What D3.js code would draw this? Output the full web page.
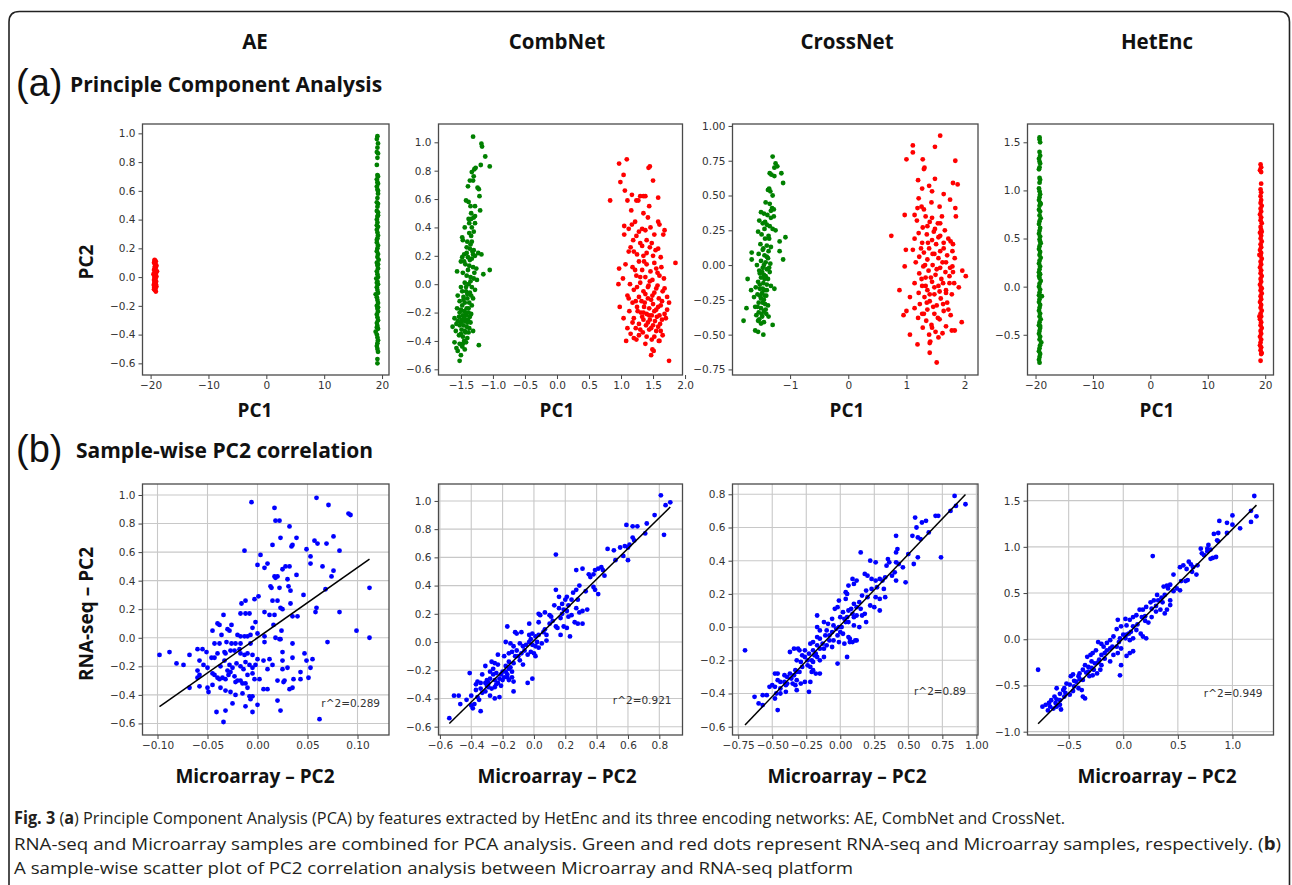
<!DOCTYPE html>
<html>
<head>
<meta charset="utf-8">
<script src="https://cdn.jsdelivr.net/npm/d3@7"></script>
<style>
  body { margin: 0; background: #fff; }
  .tick text { font-family: "DejaVu Sans", sans-serif; font-size: 10.5px; fill: #333; }
  .tick line { stroke: #444; }
  .title { font-family: "Open Sans", sans-serif; font-weight: 700; fill: #111; }
</style>
</head>
<body>
<svg id="fig" width="1292" height="885"></svg>
<script>
// ---------- data ----------
var models = ["AE", "CombNet", "CrossNet", "HetEnc"];

// (a) PCA, green = RNA-seq, red = Microarray
var aeRnaseq = [[19.2,0.98],[19.1,0.96],[19.3,0.93],[19.2,0.90],[19.1,0.87],[19.3,0.86],[19.2,0.83],[19.1,0.78],[19.2,0.71],[19.3,0.70],[19.1,0.68],[19.2,0.66],[19.3,0.65],[19.1,0.63],[19.2,0.61],[19.3,0.58],[19.2,0.55],[19.1,0.52],[19.3,0.51],[19.2,0.49],[19.1,0.46],[19.3,0.43],[19.2,0.42],[19.1,0.40],[19.2,0.38],[19.3,0.35],[19.1,0.33],[19.2,0.31],[19.3,0.29],[19.2,0.27],[19.1,0.24],[19.3,0.22],[19.2,0.20],[19.1,0.18],[19.3,0.16],[19.2,0.14],[19.4,0.12],[19.1,0.10],[19.2,0.08],[19.3,0.06],[19.1,0.04],[19.2,0.02],[19.3,0.00],[19.0,-0.01],[19.2,-0.03],[19.3,-0.05],[19.1,-0.07],[19.2,-0.09],[18.9,-0.12],[19.3,-0.11],[19.1,-0.14],[19.2,-0.16],[19.3,-0.18],[19.1,-0.20],[19.2,-0.22],[19.3,-0.24],[19.1,-0.26],[19.2,-0.28],[19.3,-0.30],[19.1,-0.32],[19.2,-0.34],[19.3,-0.36],[18.9,-0.38],[19.1,-0.40],[19.2,-0.42],[19.3,-0.44],[19.2,-0.46],[19.1,-0.48],[19.2,-0.50],[19.3,-0.52],[19.2,-0.57],[19.2,-0.60],[19.3,0.45],[19.1,0.26],[19.3,0.09],[19.1,-0.04],[19.3,-0.21],[19.1,-0.35],[19.3,0.60],[19.1,0.36]];
var aeMicro = [[-19.3,0.12],[-19.1,0.11],[-19.4,0.10],[-19.2,0.09],[-19.0,0.08],[-19.3,0.07],[-19.1,0.065],[-19.4,0.05],[-19.2,0.045],[-18.9,0.04],[-19.3,0.03],[-19.1,0.025],[-19.5,0.02],[-19.2,0.01],[-19.0,0.005],[-19.35,0.0],[-19.15,-0.01],[-19.4,-0.02],[-19.25,-0.025],[-19.05,-0.03],[-19.3,-0.04],[-19.1,-0.05],[-19.45,-0.055],[-19.2,-0.06],[-19.0,-0.065],[-19.35,-0.07],[-19.15,-0.08],[-19.4,-0.085],[-19.25,-0.09],[-19.1,-0.10],[-19.3,0.115],[-19.2,0.095],[-19.1,0.075],[-19.25,0.055],[-19.15,0.035],[-19.3,0.015],[-19.2,-0.005],[-19.3,-0.035],[-19.2,-0.045],[-19.3,-0.075]];

var combRnaseq = [[-1.31,1.04],[-1.18,0.99],[-1.17,0.97],[-1.12,0.90],[-1.05,0.83],[-1.19,0.84],[-1.29,0.81],[-1.27,0.82],[-1.33,0.79],[-1.30,0.76],[-1.36,0.73],[-1.31,0.73],[-1.24,0.68],[-1.22,0.67],[-1.39,0.69],[-1.21,0.62],[-1.42,0.59],[-1.38,0.58],[-1.35,0.55],[-1.28,0.55],[-1.20,0.52],[-1.34,0.50],[-1.28,0.48],[-1.38,0.46],[-1.34,0.46],[-1.30,0.47],[-1.37,0.43],[-1.33,0.40],[-1.44,0.40],[-1.37,0.36],[-1.30,0.37],[-1.34,0.34],[-1.48,0.33],[-1.47,0.31],[-1.40,0.30],[-1.35,0.28],[-1.41,0.26],[-1.36,0.25],[-1.30,0.24],[-1.23,0.22],[-1.18,0.21],[-1.45,0.21],[-1.48,0.19],[-1.39,0.19],[-1.33,0.18],[-1.31,0.21],[-1.28,0.20],[-1.50,0.16],[-1.43,0.14],[-1.37,0.13],[-1.31,0.12],[-1.26,0.11],[-1.05,0.10],[-1.15,0.07],[-1.56,0.09],[-1.47,0.08],[-1.41,0.06],[-1.35,0.05],[-1.30,0.04],[-1.25,0.03],[-1.44,0.01],[-1.38,0.00],[-1.50,-0.02],[-1.33,-0.02],[-1.28,-0.04],[-1.42,-0.05],[-1.36,-0.06],[-1.55,-0.08],[-1.46,-0.09],[-1.40,-0.10],[-1.31,-0.10],[-1.52,-0.12],[-1.44,-0.13],[-1.37,-0.13],[-1.33,-0.15],[-1.48,-0.15],[-1.41,-0.17],[-1.56,-0.17],[-1.50,-0.18],[-1.45,-0.19],[-1.38,-0.20],[-1.34,-0.21],[-1.47,-0.22],[-1.42,-0.22],[-1.53,-0.23],[-1.60,-0.24],[-1.49,-0.25],[-1.44,-0.26],[-1.39,-0.25],[-1.35,-0.27],[-1.57,-0.28],[-1.52,-0.29],[-1.46,-0.29],[-1.41,-0.30],[-1.63,-0.30],[-1.37,-0.31],[-1.49,-0.32],[-1.44,-0.33],[-1.58,-0.33],[-1.31,-0.33],[-1.53,-0.36],[-1.47,-0.37],[-1.40,-0.38],[-1.45,-0.40],[-1.60,-0.41],[-1.52,-0.42],[-1.22,-0.43],[-1.57,-0.45],[-1.48,-0.44],[-1.55,-0.47],[-1.44,-0.46],[-1.50,-0.50],[-1.52,-0.54],
  [-1.45,-0.24],[-1.40,-0.27],[-1.50,-0.27],[-1.43,-0.20],[-1.38,-0.17],[-1.46,-0.11],[-1.40,-0.07],[-1.34,-0.08],[-1.48,-0.05],[-1.43,-0.34],[-1.38,-0.34],[-1.50,-0.35],[-1.42,-0.02],[-1.35,0.02],[-1.29,0.08],[-1.39,0.10],[-1.45,0.16],[-1.36,0.17],[-1.32,0.23],[-1.42,-0.41],[-1.47,-0.42],[-1.55,-0.26],[-1.52,-0.20],[-1.36,-0.23],[-1.41,0.22],[-1.33,0.30],[-1.28,0.43]];
var combMicro = [[1.09,0.88],[0.97,0.85],[1.45,0.83],[1.43,0.82],[1.04,0.77],[0.99,0.72],[1.50,0.73],[1.06,0.66],[0.83,0.59],[1.10,0.59],[1.17,0.63],[1.30,0.62],[1.35,0.62],[1.38,0.62],[1.24,0.59],[1.44,0.55],[1.58,0.61],[1.27,0.59],[1.16,0.52],[1.35,0.50],[1.42,0.47],[1.22,0.44],[1.58,0.44],[1.60,0.42],[1.05,0.41],[1.17,0.42],[1.12,0.39],[1.33,0.39],[1.38,0.38],[1.28,0.37],[1.05,0.35],[1.24,0.34],[1.68,0.38],[1.66,0.35],[1.19,0.31],[1.40,0.31],[1.48,0.29],[1.15,0.26],[1.33,0.27],[1.45,0.26],[1.54,0.24],[1.58,0.25],[1.12,0.23],[1.20,0.23],[1.25,0.21],[1.35,0.20],[1.50,0.20],[1.62,0.19],[0.97,0.11],[1.07,0.14],[1.28,0.16],[1.40,0.14],[1.85,0.15],[1.18,0.12],[1.33,0.10],[1.46,0.09],[1.55,0.11],[1.63,0.12],[1.03,0.04],[1.24,0.06],[1.38,0.05],[1.49,0.03],[1.67,0.04],[0.96,0.00],[1.14,0.00],[1.30,0.01],[1.43,-0.01],[1.57,-0.01],[1.20,-0.04],[1.35,-0.05],[1.52,-0.06],[1.65,-0.05],[1.10,-0.08],[1.28,-0.09],[1.42,-0.10],[1.59,-0.10],[1.72,-0.09],[1.18,-0.13],[1.37,-0.13],[1.50,-0.14],[1.62,-0.15],[0.98,-0.16],[1.25,-0.16],[1.44,-0.17],[1.55,-0.18],[1.75,-0.13],[1.13,-0.19],[1.31,-0.20],[1.40,-0.21],[1.48,-0.22],[1.60,-0.22],[1.68,-0.21],[1.20,-0.24],[1.04,-0.24],[1.35,-0.25],[1.45,-0.25],[1.53,-0.26],[1.64,-0.25],[1.28,-0.28],[1.39,-0.29],[1.50,-0.29],[1.58,-0.30],[1.10,-0.31],[1.23,-0.31],[1.44,-0.32],[1.62,-0.33],[1.34,-0.34],[1.15,-0.35],[1.28,-0.36],[1.40,-0.37],[1.52,-0.37],[1.24,-0.39],[1.08,-0.40],[1.48,-0.39],[1.59,-0.40],[1.20,-0.38],[1.49,-0.46],[1.51,-0.47],[1.47,-0.50],[1.75,-0.54],[1.60,-0.40],
  [1.22,0.10],[1.36,0.16],[1.52,0.15],[1.30,0.05],[1.45,0.02],[1.60,0.06],[1.25,-0.02],[1.38,-0.07],[1.55,-0.03],[1.68,-0.03],[1.32,-0.12],[1.47,-0.11],[1.64,-0.12],[1.26,-0.19],[1.36,-0.16],[1.52,-0.19],[1.58,-0.16],[1.72,-0.18],[1.33,-0.23],[1.42,-0.27],[1.56,-0.23],[1.70,-0.24],[1.18,-0.27],[1.47,-0.31],[1.55,-0.33],[1.30,-0.32],[1.38,-0.42],[1.65,-0.36],[1.12,-0.10],[1.40,0.22],[1.30,0.29],[1.52,0.35],[1.42,-0.02],[1.49,-0.08],[1.35,-0.20],[1.44,-0.22],[1.61,-0.28],[1.23,-0.12],[1.57,0.08],[1.46,0.40]];

var crossRnaseq = [[-1.30,0.78],[-1.25,0.73],[-1.22,0.71],[-1.27,0.70],[-1.35,0.66],[-1.32,0.65],[-1.15,0.66],[-1.27,0.64],[-1.12,0.59],[-1.36,0.55],[-1.34,0.53],[-1.38,0.54],[-1.30,0.50],[-1.42,0.45],[-1.35,0.44],[-1.31,0.41],[-1.28,0.40],[-1.33,0.39],[-1.50,0.38],[-1.45,0.37],[-1.39,0.36],[-1.28,0.35],[-1.53,0.32],[-1.47,0.30],[-1.40,0.29],[-1.35,0.28],[-1.44,0.26],[-1.30,0.26],[-1.25,0.25],[-1.55,0.24],[-1.49,0.22],[-1.37,0.21],[-1.08,0.20],[-1.43,0.19],[-1.18,0.17],[-1.51,0.15],[-1.40,0.14],[-1.33,0.13],[-1.47,0.11],[-1.37,0.10],[-1.18,0.10],[-1.66,0.09],[-1.54,0.08],[-1.44,0.07],[-1.38,0.05],[-1.12,0.04],[-1.66,0.04],[-1.50,0.03],[-1.42,0.02],[-1.34,0.01],[-1.57,0.00],[-1.47,-0.02],[-1.40,-0.03],[-1.53,-0.04],[-1.35,-0.05],[-1.45,-0.07],[-1.42,-0.08],[-1.50,-0.09],[-1.38,-0.10],[-1.73,-0.10],[-1.55,-0.12],[-1.46,-0.13],[-1.40,-0.14],[-1.33,-0.15],[-1.59,-0.16],[-1.52,-0.17],[-1.43,-0.18],[-1.67,-0.18],[-1.27,-0.17],[-1.48,-0.20],[-1.56,-0.21],[-1.41,-0.22],[-1.62,-0.23],[-1.50,-0.24],[-1.45,-0.25],[-1.54,-0.27],[-1.43,-0.28],[-1.38,-0.29],[-1.60,-0.30],[-1.50,-0.31],[-1.75,-0.31],[-1.45,-0.33],[-1.54,-0.34],[-1.41,-0.35],[-1.58,-0.36],[-1.48,-0.37],[-1.37,-0.37],[-1.53,-0.39],[-1.80,-0.40],[-1.45,-0.41],[-1.50,-0.42],[-1.30,-0.43],[-1.60,-0.47],[-1.55,-0.48],[-1.46,-0.50],
  [-1.48,-0.05],[-1.44,-0.10],[-1.52,-0.14],[-1.47,-0.17],[-1.44,-0.22],[-1.52,-0.22],[-1.40,-0.18],[-1.47,-0.27],[-1.56,-0.30],[-1.49,-0.35],[-1.42,-0.32],[-1.45,0.00],[-1.40,0.06],[-1.46,0.12],[-1.36,0.19],[-1.43,0.31],[-1.33,0.34],[-1.36,-0.02],[-1.52,-0.06],[-1.55,-0.40]];
var crossMicro = [[1.58,0.93],[1.49,0.85],[1.11,0.86],[1.11,0.81],[1.00,0.76],[1.28,0.76],[1.84,0.75],[1.31,0.70],[1.30,0.69],[1.20,0.61],[1.49,0.62],[1.80,0.59],[1.88,0.58],[1.39,0.57],[1.27,0.55],[1.44,0.53],[1.64,0.51],[1.21,0.48],[1.75,0.47],[1.43,0.45],[1.57,0.42],[1.19,0.41],[1.26,0.42],[1.30,0.40],[1.84,0.41],[1.14,0.36],[0.97,0.36],[1.33,0.35],[1.44,0.34],[1.61,0.35],[1.18,0.32],[1.40,0.31],[1.54,0.30],[1.85,0.35],[1.28,0.27],[1.49,0.26],[1.66,0.25],[1.21,0.23],[1.35,0.22],[1.58,0.21],[0.74,0.21],[1.14,0.19],[1.44,0.18],[1.72,0.19],[1.76,0.17],[1.27,0.16],[1.51,0.15],[1.80,0.15],[0.99,0.11],[1.11,0.11],[1.39,0.12],[1.64,0.12],[1.79,0.10],[1.30,0.09],[1.48,0.08],[1.70,0.07],[1.22,0.06],[1.55,0.05],[1.83,0.05],[1.36,0.04],[1.62,0.02],[1.16,0.02],[1.45,0.00],[0.97,-0.01],[1.29,-0.01],[1.58,-0.02],[1.79,-0.01],[1.96,-0.04],[1.38,-0.04],[1.67,-0.05],[1.22,-0.06],[1.50,-0.07],[1.74,-0.08],[2.02,-0.08],[1.33,-0.09],[1.60,-0.10],[1.44,-0.12],[1.14,-0.13],[1.82,-0.13],[1.27,-0.15],[1.55,-0.15],[1.90,-0.16],[0.88,-0.18],[1.36,-0.18],[1.68,-0.18],[1.21,-0.20],[1.48,-0.21],[1.78,-0.21],[1.31,-0.23],[1.06,-0.23],[1.59,-0.24],[1.40,-0.26],[1.70,-0.27],[1.23,-0.28],[1.52,-0.29],[1.14,-0.31],[1.36,-0.32],[1.64,-0.33],[1.00,-0.33],[1.27,-0.35],[1.48,-0.35],[0.95,-0.36],[1.76,-0.36],[1.20,-0.38],[1.57,-0.39],[1.34,-0.40],[1.95,-0.41],[1.43,-0.43],[1.68,-0.44],[1.28,-0.45],[1.83,-0.47],[1.78,-0.47],[1.50,-0.48],[1.06,-0.50],[1.39,-0.50],[1.55,-0.52],[1.62,-0.49],[1.41,-0.55],[1.40,-0.56],[1.19,-0.57],[1.40,-0.63],[1.52,-0.70],
  [1.45,0.08],[1.58,0.10],[1.32,0.00],[1.52,-0.03],[1.68,0.02],[1.42,-0.09],[1.63,-0.13],[1.48,-0.16],[1.74,-0.13],[1.40,-0.21],[1.57,-0.19],[1.35,-0.27],[1.63,-0.28],[1.46,-0.30],[1.75,-0.02],[1.26,-0.10],[1.55,0.20],[1.37,0.16],[1.64,0.16],[1.47,0.24],[1.30,-0.35],[1.54,-0.38],[1.72,-0.32],[1.44,-0.45],[1.36,0.28],[1.68,-0.20],[1.25,0.12],[1.80,-0.05],[1.33,-0.15],[1.58,0.30]];

var hetRnaseq = [[-19.3,1.55],[-19.3,1.53],[-19.2,1.50],[-19.3,1.40],[-19.2,1.36],[-19.4,1.33],[-19.3,1.30],[-19.2,1.28],[-19.3,1.24],[-19.4,1.22],[-19.3,1.13],[-19.2,1.11],[-19.3,1.08],[-19.4,1.02],[-19.3,0.99],[-19.2,0.96],[-19.3,0.93],[-19.4,0.90],[-19.2,0.87],[-19.3,0.84],[-19.4,0.80],[-19.2,0.78],[-19.3,0.74],[-19.1,0.71],[-19.3,0.68],[-19.4,0.65],[-19.2,0.61],[-19.3,0.58],[-19.4,0.55],[-19.2,0.52],[-19.3,0.49],[-19.1,0.45],[-19.3,0.42],[-19.4,0.39],[-19.2,0.36],[-19.3,0.33],[-19.1,0.30],[-19.3,0.27],[-19.4,0.24],[-19.2,0.21],[-19.3,0.18],[-19.4,0.15],[-19.2,0.13],[-19.3,0.09],[-19.1,0.06],[-19.3,0.03],[-19.4,0.00],[-19.2,-0.03],[-19.3,-0.06],[-18.9,-0.10],[-19.3,-0.13],[-19.4,-0.16],[-19.2,-0.19],[-19.3,-0.22],[-19.4,-0.25],[-19.2,-0.28],[-19.3,-0.31],[-19.1,-0.34],[-19.3,-0.37],[-19.4,-0.40],[-19.2,-0.43],[-19.3,-0.46],[-19.4,-0.49],[-19.2,-0.52],[-19.3,-0.55],[-19.0,-0.58],[-19.2,-0.61],[-19.3,-0.64],[-19.4,-0.67],[-19.2,-0.70],[-19.3,-0.73],[-19.4,-0.76],[-19.3,-0.79],[-19.2,0.47],[-19.4,0.11],[-19.2,-0.41],[-19.1,0.86],[-19.4,-0.09]];
var hetMicro = [[19.2,1.27],[19.3,1.24],[19.1,1.21],[19.3,1.19],[19.3,1.07],[19.2,1.01],[19.3,0.98],[19.2,0.94],[19.3,0.90],[19.2,0.87],[19.4,0.84],[19.2,0.81],[19.3,0.78],[19.1,0.75],[19.3,0.72],[19.2,0.69],[19.4,0.66],[19.2,0.62],[19.3,0.59],[19.1,0.56],[19.3,0.53],[19.2,0.50],[19.4,0.47],[19.2,0.44],[19.3,0.41],[19.1,0.38],[19.3,0.35],[19.2,0.32],[19.4,0.29],[19.2,0.26],[19.3,0.23],[19.1,0.20],[19.3,0.17],[19.2,0.14],[19.4,0.11],[19.2,0.08],[19.3,0.05],[19.1,0.02],[19.3,-0.01],[19.2,-0.04],[19.4,-0.07],[19.2,-0.10],[19.3,-0.13],[19.1,-0.16],[19.3,-0.19],[19.2,-0.22],[19.4,-0.25],[19.2,-0.28],[19.3,-0.31],[19.1,-0.34],[19.3,-0.37],[19.2,-0.40],[19.4,-0.43],[19.2,-0.46],[19.3,-0.49],[19.1,-0.52],[19.3,-0.55],[19.2,-0.58],[19.1,-0.61],[19.3,-0.63],[19.2,-0.66],[19.4,-0.69],[19.3,-0.70],[19.2,-0.77],[19.0,0.33],[19.4,-0.02],[19.0,-0.31],[19.4,0.57]];

// (b) sample-wise PC2: [microarray PC2, RNA-seq PC2]
var corrAE = [[0.059,0.98],[-0.006,0.95],[0.017,0.91],[0.071,0.93],[0.091,0.87],[0.093,0.86],[0.018,0.82],[0.022,0.82],[0.032,0.78],[0.023,0.70],[0.039,0.70],[0.076,0.71],[0.015,0.65],[0.034,0.64],[0.035,0.65],[0.057,0.68],[0.060,0.66],[0.069,0.66],[-0.013,0.61],[0.049,0.62],[0.082,0.61],[0.003,0.58],[0.053,0.57],[0.053,0.52],[0.000,0.51],[0.010,0.52],[0.007,0.49],[0.025,0.48],[0.028,0.50],[0.032,0.50],[0.065,0.50],[0.076,0.47],[0.074,0.43],[0.017,0.43],[0.018,0.42],[0.020,0.43],[0.030,0.41],[0.039,0.44],[0.013,0.36],[0.014,0.35],[0.022,0.35],[0.031,0.36],[0.033,0.33],[0.046,0.30],[0.068,0.34],[0.112,0.35],[0.001,0.29],[-0.003,0.27],[-0.012,0.26],[0.015,0.26],[0.020,0.26],[0.033,0.24],[-0.016,0.24],[0.023,0.21],[0.025,0.20],[0.059,0.21],[0.058,0.18],[0.082,0.18],[-0.034,0.16],[-0.008,0.17],[-0.012,0.17],[-0.017,0.17],[0.007,0.18],[0.012,0.16],[0.017,0.16],[0.035,0.15],[0.040,0.15],[-0.002,0.11],[-0.040,0.10],[-0.038,0.09],[-0.026,0.09],[0.016,0.09],[-0.045,0.05],[-0.030,0.06],[-0.028,0.05],[-0.005,0.07],[0.024,0.05],[0.099,0.05],[-0.036,0.02],[-0.020,0.02],[-0.017,0.01],[-0.013,0.01],[-0.010,0.01],[-0.007,0.02],[0.000,0.03],[0.007,0.01],[0.018,0.00],[0.022,-0.01],[0.023,-0.01],[0.112,0.00],[-0.043,-0.04],[-0.038,-0.04],[-0.031,-0.03],[-0.026,-0.04],[-0.022,-0.04],[-0.017,-0.04],[-0.007,-0.04],[0.007,-0.03],[0.035,-0.04],[0.070,-0.03],[-0.098,-0.12],[-0.088,-0.10],[-0.081,-0.18],[-0.074,-0.19],[-0.068,-0.12],[-0.060,-0.08],[-0.055,-0.08],[-0.058,-0.16],[-0.051,-0.10],[-0.046,-0.14],[-0.043,-0.14],[-0.040,-0.11],[-0.033,-0.10],[-0.032,-0.11],[-0.027,-0.09],[-0.023,-0.09],[-0.018,-0.08],[-0.017,-0.11],[-0.013,-0.12],[-0.010,-0.11],[-0.005,-0.12],[0.000,-0.15],[0.006,-0.16],[0.012,-0.15],[0.025,-0.10],[0.025,-0.16],[0.035,-0.14],[0.047,-0.11],[0.049,-0.16],[0.055,-0.15],[-0.054,-0.19],[-0.050,-0.21],[-0.037,-0.20],[-0.033,-0.16],[-0.030,-0.23],[-0.028,-0.19],[-0.025,-0.21],[-0.021,-0.18],[-0.017,-0.20],[-0.014,-0.22],[-0.012,-0.17],[-0.008,-0.19],[-0.005,-0.21],[-0.002,-0.19],[0.010,-0.22],[0.015,-0.19],[0.025,-0.22],[0.030,-0.21],[0.020,-0.30],[0.026,-0.31],[0.027,-0.30],[0.036,-0.29],[0.053,-0.21],[-0.045,-0.25],[-0.043,-0.26],[-0.040,-0.28],[-0.038,-0.29],[-0.035,-0.28],[-0.032,-0.29],[-0.029,-0.26],[-0.027,-0.24],[-0.023,-0.27],[-0.022,-0.31],[-0.020,-0.30],[-0.017,-0.30],[-0.015,-0.32],[-0.012,-0.32],[-0.010,-0.26],[-0.005,-0.25],[-0.003,-0.29],[0.002,-0.29],[-0.060,-0.23],[-0.058,-0.26],[-0.060,-0.28],[-0.068,-0.35],[-0.058,-0.34],[-0.050,-0.35],[-0.049,-0.38],[-0.045,-0.33],[-0.037,-0.35],[-0.032,-0.37],[-0.027,-0.38],[-0.022,-0.40],[-0.015,-0.39],[-0.010,-0.35],[0.032,-0.36],[0.035,-0.35],[0.043,-0.24],[0.043,-0.29],[0.051,-0.28],[-0.025,-0.46],[-0.008,-0.41],[-0.007,-0.43],[-0.005,-0.41],[-0.012,-0.48],[-0.041,-0.52],[-0.032,-0.51],[-0.005,-0.52],[0.000,-0.47],[0.010,-0.36],[0.020,-0.44],[0.023,-0.51],[-0.034,-0.59],[0.062,-0.57],[0.006,-0.36]];
var corrComb = [[0.81,1.04],[0.84,0.97],[0.87,0.99],[0.77,0.90],[0.83,0.76],[0.72,0.84],[0.71,0.77],[0.59,0.83],[0.63,0.82],[0.66,0.82],[0.63,0.74],[0.64,0.72],[0.58,0.68],[0.60,0.67],[0.61,0.69],[0.55,0.67],[0.51,0.65],[0.47,0.66],[0.57,0.61],[0.60,0.58],[0.14,0.62],[0.43,0.53],[0.44,0.51],[0.41,0.52],[0.39,0.51],[0.31,0.52],[0.27,0.51],[0.35,0.48],[0.36,0.46],[0.38,0.48],[0.29,0.40],[0.27,0.37],[0.38,0.39],[0.39,0.37],[0.41,0.34],[0.14,0.37],[0.25,0.35],[0.24,0.30],[0.21,0.32],[0.20,0.30],[0.16,0.32],[0.18,0.27],[0.13,0.26],[0.16,0.24],[0.19,0.23],[0.21,0.22],[0.22,0.18],[0.24,0.19],[0.27,0.24],[0.29,0.21],[0.31,0.22],[0.34,0.23],[0.26,0.14],[0.28,0.13],[0.31,0.13],[0.07,0.21],[0.10,0.19],[0.11,0.18],[0.17,0.17],[0.19,0.11],[0.21,0.10],[0.10,0.13],[0.14,0.11],[0.15,0.10],[0.17,0.05],[0.23,0.04],[0.03,0.20],[0.04,0.19],[0.03,0.14],[-0.03,0.13],[0.07,0.09],[0.08,0.05],[-0.01,0.06],[0.01,0.04],[0.03,0.05],[-0.08,0.07],[-0.11,0.06],[-0.18,0.00],[-0.15,-0.01],[-0.13,-0.03],[-0.09,-0.01],[-0.07,-0.03],[-0.05,-0.02],[-0.03,0.05],[-0.03,0.00],[-0.01,-0.02],[0.01,-0.03],[0.03,-0.04],[0.05,-0.01],[0.08,0.01],[0.00,-0.08],[0.01,-0.10],[-0.04,-0.09],[-0.02,-0.07],[-0.17,0.11],[-0.12,0.07],[-0.23,-0.09],[-0.19,-0.10],[-0.16,-0.08],[-0.14,-0.07],[-0.11,-0.06],[-0.08,-0.08],[-0.12,-0.10],[-0.09,-0.13],[-0.07,-0.16],[-0.16,-0.14],[-0.13,-0.15],[-0.27,-0.14],[-0.25,-0.15],[-0.23,-0.16],[-0.18,-0.17],[-0.16,-0.19],[-0.14,-0.21],[-0.26,-0.19],[-0.28,-0.21],[-0.24,-0.22],[-0.21,-0.23],[-0.19,-0.25],[-0.17,-0.23],[-0.20,-0.27],[-0.25,-0.27],[-0.23,-0.29],[-0.16,-0.27],[-0.14,-0.25],[-0.13,-0.28],[-0.31,-0.17],[-0.33,-0.23],[-0.30,-0.27],[-0.31,-0.29],[-0.34,-0.29],[-0.36,-0.28],[-0.37,-0.30],[-0.29,-0.32],[-0.27,-0.33],[-0.25,-0.32],[-0.34,-0.33],[-0.31,-0.35],[-0.28,-0.38],[-0.25,-0.40],[-0.22,-0.39],[-0.04,-0.29],[-0.01,-0.26],[-0.13,-0.35],[-0.41,-0.22],[-0.37,-0.34],[-0.40,-0.38],[-0.36,-0.39],[-0.35,-0.41],[-0.38,-0.44],[-0.34,-0.49],[-0.51,-0.38],[-0.48,-0.38],[-0.47,-0.44],[-0.40,-0.45],[-0.39,-0.47],[-0.54,-0.54],[-0.43,-0.41],
  [-0.30,-0.31],[-0.28,-0.26],[-0.22,-0.26],[-0.20,-0.21],[-0.18,-0.21],[-0.26,-0.23],[-0.24,-0.30],[-0.21,-0.31],[-0.17,-0.25],[-0.15,-0.18],[-0.10,-0.10],[-0.06,-0.06],[-0.02,0.02],[0.02,0.00],[0.06,0.07],[0.12,0.15],[0.18,0.20],[0.22,0.26],[0.28,0.30],[0.33,0.36],[0.45,0.47],[0.52,0.58],[-0.33,-0.36],[-0.29,-0.29]];
var corrCross = [[0.84,0.79],[0.85,0.73],[0.92,0.74],[0.81,0.70],[0.70,0.67],[0.72,0.67],[0.63,0.64],[0.60,0.63],[0.55,0.66],[0.56,0.60],[0.57,0.54],[0.59,0.53],[0.53,0.55],[0.41,0.55],[0.42,0.47],[0.41,0.45],[0.74,0.42],[0.57,0.42],[0.54,0.38],[0.15,0.45],[0.22,0.40],[0.26,0.39],[0.35,0.41],[0.36,0.39],[0.34,0.37],[0.41,0.39],[0.43,0.38],[0.46,0.36],[0.18,0.32],[0.20,0.31],[0.23,0.29],[0.26,0.28],[0.29,0.29],[0.31,0.28],[0.38,0.31],[0.41,0.28],[0.48,0.27],[0.10,0.26],[0.12,0.28],[0.09,0.29],[0.06,0.25],[0.23,0.23],[0.32,0.23],[0.04,0.21],[0.05,0.20],[0.16,0.19],[0.20,0.18],[0.26,0.18],[0.29,0.17],[0.33,0.18],[0.22,0.13],[0.25,0.12],[0.29,0.10],[-0.01,0.16],[0.04,0.17],[0.10,0.14],[0.12,0.12],[0.15,0.11],[-0.04,0.11],[-0.02,0.12],[0.02,0.09],[0.06,0.10],[0.09,0.08],[-0.17,0.07],[-0.06,0.05],[0.00,0.06],[0.03,0.05],[0.05,0.06],[0.10,0.06],[0.12,0.07],[0.16,0.07],[0.18,0.08],[0.19,0.03],[0.14,0.00],[-0.12,0.03],[-0.09,0.02],[-0.05,0.01],[-0.01,0.00],[0.01,0.00],[0.06,0.03],[0.10,0.01],[-0.17,0.00],[-0.15,-0.02],[-0.10,-0.02],[-0.06,-0.03],[-0.02,-0.05],[0.00,-0.03],[0.02,-0.04],[-0.17,-0.06],[-0.15,-0.07],[-0.11,-0.05],[-0.08,-0.08],[-0.05,-0.08],[-0.01,-0.09],[0.03,-0.10],[0.06,-0.06],[0.07,-0.07],[0.09,-0.09],[0.11,-0.08],[0.07,-0.09],[0.12,-0.08],[-0.10,-0.11],[-0.06,-0.12],[-0.22,-0.10],[-0.20,-0.09],[-0.17,-0.11],[-0.15,-0.13],[-0.12,-0.13],[-0.02,-0.22],[0.05,-0.18],[-0.20,-0.14],[-0.18,-0.16],[-0.23,-0.16],[-0.26,-0.14],[-0.30,-0.14],[-0.34,-0.13],[-0.37,-0.15],[-0.31,-0.13],[-0.28,-0.17],[-0.26,-0.18],[-0.21,-0.20],[-0.20,-0.21],[-0.17,-0.18],[-0.15,-0.20],[-0.12,-0.18],[-0.29,-0.21],[-0.32,-0.20],[-0.24,-0.23],[-0.22,-0.24],[-0.21,-0.27],[-0.18,-0.28],[-0.15,-0.28],[-0.33,-0.26],[-0.32,-0.27],[-0.34,-0.29],[-0.37,-0.28],[-0.39,-0.30],[-0.41,-0.29],[-0.32,-0.32],[-0.44,-0.33],[-0.41,-0.33],[-0.46,-0.32],[-0.39,-0.34],[-0.35,-0.34],[-0.33,-0.35],[-0.29,-0.34],[-0.26,-0.33],[-0.22,-0.33],[-0.32,-0.38],[-0.23,-0.39],[-0.40,-0.39],[-0.44,-0.37],[-0.48,-0.28],[-0.46,-0.28],[-0.50,-0.35],[-0.48,-0.36],[-0.52,-0.36],[-0.54,-0.41],[-0.57,-0.41],[-0.48,-0.43],[-0.46,-0.50],[-0.63,-0.42],[-0.57,-0.47],[-0.70,-0.14],[-0.60,-0.46],[-0.44,-0.40],
  [-0.40,-0.35],[-0.36,-0.31],[-0.28,-0.24],[-0.24,-0.20],[-0.19,-0.17],[-0.13,-0.10],[-0.08,-0.05],[-0.03,-0.01],[0.04,0.03],[0.08,0.11],[0.14,0.15],[0.19,0.22],[0.27,0.24],[0.33,0.30],[0.40,0.33],[0.50,0.44],[0.65,0.57],[-0.47,-0.40],[-0.30,-0.27],[-0.20,-0.26]];
var corrHet = [[1.20,1.55],[1.22,1.33],[1.17,1.39],[1.17,1.27],[1.00,1.34],[1.07,1.20],[0.95,1.26],[1.00,1.24],[0.88,1.28],[0.95,1.15],[0.87,1.15],[0.83,1.14],[0.86,1.07],[0.87,1.06],[0.78,1.02],[0.77,0.98],[0.71,0.98],[0.80,0.97],[0.77,0.95],[0.72,0.93],[0.74,0.91],[0.82,0.88],[0.85,0.89],[0.80,0.87],[0.27,0.90],[0.60,0.84],[0.62,0.81],[0.55,0.80],[0.64,0.78],[0.58,0.76],[0.52,0.78],[0.46,0.70],[0.63,0.73],[0.67,0.70],[0.59,0.64],[0.57,0.63],[0.52,0.53],[0.49,0.55],[0.43,0.59],[0.40,0.58],[0.37,0.57],[0.41,0.55],[0.31,0.48],[0.38,0.48],[0.35,0.45],[0.32,0.42],[0.43,0.42],[0.43,0.37],[0.40,0.32],[0.38,0.28],[0.28,0.42],[0.25,0.40],[0.21,0.35],[0.26,0.33],[0.30,0.30],[0.34,0.32],[0.18,0.32],[0.15,0.32],[0.12,0.26],[0.17,0.24],[0.20,0.20],[0.23,0.18],[0.26,0.24],[0.09,0.24],[0.06,0.21],[0.02,0.22],[0.03,0.15],[-0.05,0.21],[-0.02,0.14],[-0.06,0.11],[0.09,0.14],[0.12,0.10],[0.16,0.06],[0.18,0.03],[0.21,0.01],[0.07,0.08],[0.03,0.05],[0.00,0.05],[0.02,0.01],[0.06,-0.01],[0.09,0.01],[-0.03,0.01],[-0.09,0.03],[-0.12,-0.01],[-0.15,-0.04],[-0.06,-0.08],[-0.02,-0.10],[0.09,-0.13],[0.06,-0.15],[0.03,-0.18],[-0.05,-0.15],[-0.09,-0.17],[-0.12,-0.10],[-0.18,-0.08],[-0.15,-0.12],[-0.23,-0.03],[-0.20,-0.05],[-0.25,-0.12],[-0.28,-0.15],[-0.20,-0.17],[-0.17,-0.21],[-0.12,-0.24],[-0.02,-0.28],[-0.03,-0.39],[-0.20,-0.28],[-0.23,-0.25],[-0.30,-0.17],[-0.33,-0.19],[-0.29,-0.24],[-0.26,-0.26],[-0.35,-0.28],[-0.32,-0.30],[-0.37,-0.33],[-0.32,-0.35],[-0.29,-0.31],[-0.24,-0.37],[-0.21,-0.33],[-0.28,-0.39],[-0.31,-0.40],[-0.40,-0.37],[-0.41,-0.40],[-0.37,-0.44],[-0.43,-0.46],[-0.46,-0.38],[-0.48,-0.40],[-0.52,-0.48],[-0.49,-0.49],[-0.45,-0.51],[-0.41,-0.53],[-0.38,-0.55],[-0.35,-0.64],[-0.37,-0.62],[-0.46,-0.56],[-0.55,-0.55],[-0.58,-0.59],[-0.54,-0.62],[-0.49,-0.60],[-0.61,-0.53],[-0.63,-0.62],[-0.61,-0.65],[-0.58,-0.66],[-0.66,-0.66],[-0.68,-0.69],[-0.71,-0.71],[-0.67,-0.73],[-0.64,-0.75],[-0.61,-0.73],[-0.58,-0.71],[-0.69,-0.77],[-0.54,-0.53],[-0.78,-0.33],[-0.74,-0.73],[-0.57,-0.76],
  [-0.45,-0.45],[-0.40,-0.43],[-0.34,-0.36],[-0.27,-0.33],[-0.22,-0.22],[-0.17,-0.15],[-0.10,-0.08],[-0.04,-0.03],[0.05,0.06],[0.13,0.16],[0.20,0.25],[0.30,0.36],[0.36,0.40],[0.46,0.52],[0.53,0.63],[0.68,0.80],[-0.53,-0.58],[-0.62,-0.69]];

// regression lines and r^2 labels
var fitSlope = [4.92, 1.088, 0.857, 1.183];
var fitIntercept = [0.0, 0.010, 0.010, 0.008];
var rSquared = ["0.289", "0.921", "0.89", "0.949"];

// axis limits and tick labels
var pcaXDomain = [[-21.4, 21.2], [-1.85, 1.96], [-1.99, 2.23], [-21.4, 21.45]];
var pcaYDomain = [[-0.681, 1.065], [-0.64, 1.129], [-0.79, 1.014], [-0.918, 1.69]];
var pcaXTicks = [[-20, -10, 0, 10, 20], [-1.5, -1.0, -0.5, 0.0, 0.5, 1.0, 1.5, 2.0], [-1, 0, 1, 2], [-20, -10, 0, 10, 20]];
var pcaYTicks = [[-0.6, -0.4, -0.2, 0.0, 0.2, 0.4, 0.6, 0.8, 1.0], [-0.6, -0.4, -0.2, 0.0, 0.2, 0.4, 0.6, 0.8, 1.0], [-0.75, -0.5, -0.25, 0, 0.25, 0.5, 0.75, 1.0], [-0.5, 0.0, 0.5, 1.0, 1.5]];
var pcaXFormat = ["d", ".1f", "d", "d"];
var pcaYFormat = [".1f", ".1f", ".2f", ".1f"];

var corrXDomain = [[-0.115, 0.1315], [-0.609, 0.948], [-0.792, 1.012], [-0.877, 1.376]];
var corrYDomain = [[-0.681, 1.077], [-0.659, 1.12], [-0.65, 0.862], [-1.036, 1.68]];
var corrXTicks = [[-0.10, -0.05, 0.00, 0.05, 0.10], [-0.6, -0.4, -0.2, 0.0, 0.2, 0.4, 0.6, 0.8], [-0.75, -0.5, -0.25, 0, 0.25, 0.5, 0.75, 1.0], [-0.5, 0.0, 0.5, 1.0]];
var corrYTicks = [[-0.6, -0.4, -0.2, 0.0, 0.2, 0.4, 0.6, 0.8, 1.0], [-0.6, -0.4, -0.2, 0.0, 0.2, 0.4, 0.6, 0.8, 1.0], [-0.6, -0.4, -0.2, 0.0, 0.2, 0.4, 0.6, 0.8], [-1.0, -0.5, 0.0, 0.5, 1.0, 1.5]];
var corrXFormat = [".2f", ".1f", ".2f", ".1f"];
var corrYFormat = [".1f", ".1f", ".1f", ".1f"];

var pcaRnaseq = [aeRnaseq, combRnaseq, crossRnaseq, hetRnaseq];
var pcaMicro = [aeMicro, combMicro, crossMicro, hetMicro];
var corrData = [corrAE, corrComb, corrCross, corrHet];

// ---------- layout ----------
var svg = d3.select("#fig");
var colCenter = [255, 557, 847, 1157];
var boxLeft = [142.5, 438.5, 732.5, 1027.5];
var boxRight = [389, 682.5, 978, 1273.5];
var rowTop = [124, 484];
var rowBottom = [375, 735];
var r2Offset = [[9, 28], [11, 31], [12, 40], [11, 38]];

// outer frame, open at the bottom
svg.append("path")
    .attr("d", "M9,885 L9,22 Q9,11.5 19.5,11.5 L1279,11.5 Q1289.5,11.5 1289.5,22 L1289.5,885")
    .attr("fill", "none").attr("stroke", "#222").attr("stroke-width", 1.6);

// column titles
svg.selectAll("text.col").data(models).enter().append("text")
    .attr("class", "title col")
    .attr("x", function(d, i) { return colCenter[i]; })
    .attr("y", 49)
    .attr("text-anchor", "middle")
    .attr("font-size", "20.5px")
    .text(function(d) { return d; });

// section headers
function header(letter, label, y, labelX) {
    svg.append("text").attr("x", 16).attr("y", y + 4)
        .attr("font-family", "Liberation Sans, Arial, sans-serif")
        .attr("font-size", "38px").attr("fill", "#111").text("(" + letter + ")");
    svg.append("text").attr("class", "title").attr("x", labelX).attr("y", y)
        .attr("font-size", "21px").text(label);
}
header("a", "Principle Component Analysis", 92, 70);
header("b", "Sample-wise PC2 correlation", 458, 76);

function panel(row, i, xDom, yDom, xTicks, yTicks, xFmt, yFmt, grid) {
    var x = d3.scaleLinear().domain(xDom).range([boxLeft[i], boxRight[i]]);
    var y = d3.scaleLinear().domain(yDom).range([rowBottom[row], rowTop[row]]);
    var g = svg.append("g");

    if (grid) {
        g.selectAll("line.gx").data(xTicks).enter().append("line")
            .attr("x1", function(d) { return x(d); }).attr("x2", function(d) { return x(d); })
            .attr("y1", rowTop[row]).attr("y2", rowBottom[row])
            .attr("stroke", "#c8c8c8").attr("stroke-width", 1.1);
        g.selectAll("line.gy").data(yTicks).enter().append("line")
            .attr("y1", function(d) { return y(d); }).attr("y2", function(d) { return y(d); })
            .attr("x1", boxLeft[i]).attr("x2", boxRight[i])
            .attr("stroke", "#c8c8c8").attr("stroke-width", 1.1);
    }

    var ax = g.append("g").attr("transform", "translate(0," + rowBottom[row] + ")")
        .call(d3.axisBottom(x).tickValues(xTicks).tickFormat(d3.format(xFmt)).tickSizeOuter(0).tickSize(4).tickPadding(3));
    var ay = g.append("g").attr("transform", "translate(" + boxLeft[i] + ",0)")
        .call(d3.axisLeft(y).tickValues(yTicks).tickFormat(d3.format(yFmt)).tickSizeOuter(0).tickSize(4).tickPadding(3));
    ax.select(".domain").remove();
    ay.select(".domain").remove();
    ax.selectAll("text").attr("font-size", null).attr("font-family", null);
    ay.selectAll("text").attr("font-size", null).attr("font-family", null);
    g.selectAll(".tick line").attr("stroke", "#444");

    return { g: g, x: x, y: y };
}

function frame(row, i) {
    svg.append("rect")
        .attr("x", boxLeft[i]).attr("y", rowTop[row])
        .attr("width", boxRight[i] - boxLeft[i]).attr("height", rowBottom[row] - rowTop[row])
        .attr("fill", "none").attr("stroke", "#4a4a4a").attr("stroke-width", 1.3);
}

// (a) PCA panels
models.forEach(function(m, i) {
    var p = panel(0, i, pcaXDomain[i], pcaYDomain[i], pcaXTicks[i], pcaYTicks[i], pcaXFormat[i], pcaYFormat[i], false);
    p.g.selectAll("circle.mic").data(pcaMicro[i]).enter().append("circle")
        .attr("cx", function(d) { return p.x(d[0]); })
        .attr("cy", function(d) { return p.y(d[1]); })
        .attr("r", 2.4).attr("fill", "#ff0000");
    p.g.selectAll("circle.rna").data(pcaRnaseq[i]).enter().append("circle")
        .attr("cx", function(d) { return p.x(d[0]); })
        .attr("cy", function(d) { return p.y(d[1]); })
        .attr("r", 2.4).attr("fill", "#008000");
    frame(0, i);
    svg.append("text").attr("class", "title")
        .attr("x", colCenter[i]).attr("y", 417).attr("text-anchor", "middle")
        .attr("font-size", "19px").text("PC1");
});
svg.append("text").attr("class", "title")
    .attr("transform", "translate(93,262) rotate(-90)")
    .attr("text-anchor", "middle").attr("font-size", "19px").text("PC2");

// (b) sample-wise correlation panels
models.forEach(function(m, i) {
    var p = panel(1, i, corrXDomain[i], corrYDomain[i], corrXTicks[i], corrYTicks[i], corrXFormat[i], corrYFormat[i], true);
    var pts = corrData[i];
    p.g.selectAll("circle.c").data(pts).enter().append("circle")
        .attr("cx", function(d) { return p.x(d[0]); })
        .attr("cy", function(d) { return p.y(d[1]); })
        .attr("r", 2.4).attr("fill", "#0000ff");
    var ext = d3.extent(pts, function(d) { return d[0]; });
    p.g.append("line")
        .attr("x1", p.x(ext[0])).attr("y1", p.y(fitSlope[i] * ext[0] + fitIntercept[i]))
        .attr("x2", p.x(ext[1])).attr("y2", p.y(fitSlope[i] * ext[1] + fitIntercept[i]))
        .attr("stroke", "#000").attr("stroke-width", 1.5);
    p.g.append("text")
        .attr("x", boxRight[i] - r2Offset[i][0]).attr("y", rowBottom[1] - r2Offset[i][1])
        .attr("text-anchor", "end")
        .attr("font-family", "DejaVu Sans, sans-serif").attr("font-size", "10.5px").attr("fill", "#333")
        .text("r^2=" + rSquared[i]);
    frame(1, i);
    svg.append("text").attr("class", "title")
        .attr("x", colCenter[i]).attr("y", 783).attr("text-anchor", "middle")
        .attr("font-size", "19px").text("Microarray \u2013 PC2");
});
svg.append("text").attr("class", "title")
    .attr("transform", "translate(93,614) rotate(-90)")
    .attr("text-anchor", "middle").attr("font-size", "19px").text("RNA-seq \u2013 PC2");

// caption, each line fitted to its width in the reference
var cap = svg.append("g").attr("font-family", "Open Sans, sans-serif").attr("font-size", "17px").attr("fill", "#231f20");
var l1 = cap.append("text").attr("x", 14).attr("y", 824).attr("textLength", 1051).attr("lengthAdjust", "spacingAndGlyphs");
l1.append("tspan").attr("font-weight", 700).text("Fig. 3");
l1.append("tspan").text(" (");
l1.append("tspan").attr("font-weight", 700).text("a");
l1.append("tspan").text(") Principle Component Analysis (PCA) by features extracted by HetEnc and its three encoding networks: AE, CombNet and CrossNet.");
var l2 = cap.append("text").attr("x", 14).attr("y", 850).attr("textLength", 1267).attr("lengthAdjust", "spacingAndGlyphs");
l2.append("tspan").text("RNA-seq and Microarray samples are combined for PCA analysis. Green and red dots represent RNA-seq and Microarray samples, respectively. (");
l2.append("tspan").attr("font-weight", 700).text("b");
l2.append("tspan").text(")");
cap.append("text").attr("x", 14).attr("y", 874).attr("textLength", 839).attr("lengthAdjust", "spacingAndGlyphs")
    .text("A sample-wise scatter plot of PC2 correlation analysis between Microarray and RNA-seq platform");
</script>
</body>
</html>
